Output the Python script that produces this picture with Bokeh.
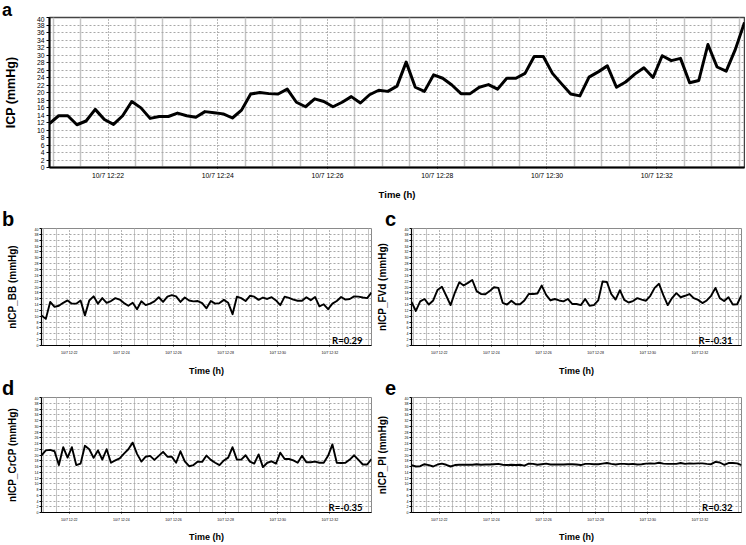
from bokeh.plotting import figure
from bokeh.layouts import column, row
from bokeh.models import Range1d, FixedTicker, Label, Div
from bokeh.embed import file_html
from bokeh.resources import INLINE

# ---------------- data ----------------
START = "12:20:56"          # time of first sample
SAMPLE_S = 10               # seconds between samples
TICK_LABELS = ["10/7 12:22", "10/7 12:24", "10/7 12:26",
               "10/7 12:28", "10/7 12:30", "10/7 12:32"]
Y_TICKS = list(range(0, 41, 2))

ICP = [11.7, 13.8, 13.8, 11.4, 12.4, 15.5, 12.8, 11.5, 13.8, 17.6,
       15.9, 13.1, 13.6, 13.6, 14.5, 13.8, 13.4, 14.9, 14.6, 14.3,
       13.2, 15.3, 19.6, 20.0, 19.7, 19.6, 20.9, 17.4, 16.2, 18.3,
       17.6, 16.2, 17.4, 18.9, 17.2, 19.4, 20.6, 20.3, 21.7, 28.1,
       21.4, 20.3, 24.7, 23.8, 22.0, 19.7, 19.7, 21.4, 22.1, 20.9,
       23.8, 23.8, 25.1, 29.6, 29.6, 25.1, 22.3, 19.6, 19.1, 24.1,
       25.5, 27.1, 21.4, 22.8, 24.9, 26.6, 24.0, 29.8, 28.5, 29.1,
       22.6, 23.2, 32.8, 26.8, 25.7, 31.5, 38.7]

NICP_BB = [10.3, 9.1, 14.9, 13.2, 13.6, 14.6, 15.4, 14.3, 14.3, 15.4,
           10.3, 15.4, 16.8, 14.3, 16.2, 14.6, 15.2, 16.2, 15.7, 14.5,
           13.6, 14.6, 12.4, 15.1, 13.8, 14.3, 15.1, 16.5, 14.9, 16.7,
           17.2, 16.8, 14.9, 16.4, 15.4, 15.1, 15.2, 14.5, 12.7, 15.2,
           14.3, 14.5, 15.6, 14.6, 10.7, 16.7, 16.2, 15.2, 17.0, 16.7,
           15.6, 16.4, 15.9, 16.5, 15.4, 13.8, 16.7, 16.3, 15.7, 15.3,
           15.3, 16.5, 15.5, 16.6, 13.4, 14.1, 12.4, 14.3, 15.2, 16.6,
           15.7, 15.9, 16.8, 16.7, 16.4, 16.2, 18.1]

NICP_FVD = [14.9, 11.8, 15.1, 15.9, 14.0, 15.4, 19.0, 20.1, 17.0, 13.8,
            18.1, 21.6, 20.5, 21.4, 22.4, 18.6, 17.6, 17.5, 18.6, 19.9,
            19.7, 14.6, 14.0, 15.3, 14.1, 14.1, 15.4, 17.6, 17.6, 17.8,
            20.5, 17.3, 15.4, 15.9, 15.4, 15.1, 15.9, 14.2, 14.2, 13.8,
            15.9, 13.6, 13.8, 15.4, 21.9, 21.7, 17.6, 15.7, 18.9, 15.6,
            14.7, 15.2, 16.2, 15.7, 15.3, 17.0, 19.7, 21.1, 17.2, 13.8,
            16.2, 17.9, 16.5, 17.0, 17.6, 16.2, 15.6, 14.5, 15.4, 17.0,
            19.7, 16.2, 15.2, 16.5, 14.0, 14.1, 17.2]

NICP_CRCP = [19.9, 21.6, 21.8, 21.3, 16.5, 22.7, 19.1, 22.7, 16.5, 17.0,
             23.2, 22.0, 19.0, 21.6, 18.4, 22.0, 17.3, 18.1, 18.8, 20.5,
             22.0, 24.3, 20.4, 17.7, 19.4, 19.7, 18.3, 19.7, 21.1, 19.4,
             19.4, 17.3, 21.3, 17.8, 16.1, 16.5, 17.7, 17.6, 19.8, 18.3,
             17.3, 16.5, 18.1, 19.1, 22.7, 18.4, 18.4, 19.9, 17.7, 17.0,
             20.2, 15.8, 17.3, 17.8, 17.0, 20.8, 18.6, 18.6, 18.1, 17.3,
             19.7, 17.5, 17.5, 17.7, 17.3, 17.3, 19.7, 23.7, 17.3, 17.2,
             17.3, 18.4, 19.9, 18.3, 16.7, 16.7, 18.6]

NICP_PI = [16.5, 16.0, 16.1, 16.8, 16.5, 16.0, 16.7, 17.0, 16.6, 16.0,
           16.5, 16.6, 16.6, 16.6, 16.6, 16.8, 16.6, 16.7, 16.7, 16.8,
           16.9, 16.6, 16.5, 16.6, 16.5, 16.6, 16.3, 17.0, 16.9, 16.6,
           16.8, 17.0, 16.7, 16.7, 16.7, 16.7, 16.8, 16.8, 16.7, 16.5,
           16.9, 16.9, 16.8, 16.8, 17.0, 17.2, 16.9, 16.7, 16.9, 16.9,
           16.8, 16.9, 16.7, 16.8, 17.0, 17.1, 17.0, 17.3, 17.0, 16.9,
           16.9, 16.9, 17.2, 16.9, 17.1, 17.0, 17.1, 17.1, 16.9, 16.8,
           17.6, 17.4, 16.6, 17.2, 17.2, 17.1, 16.5]

PANEL_LETTERS = ["a", "b", "c", "d", "e"]
Y_LABELS = ["ICP (mmHg)", "nICP_BB (mmHg)", "nICP_FVd (mmHg)",
            "nICP_CrCP (mmHg)", "nICP_PI (mmHg)"]
R_TEXTS = [None, "R=0.29", "R=-0.31", "R=-0.35", "R=0.32"]
X_LABEL = "Time (h)"

# ---------------- helpers ----------------
FONT = "Liberation Sans"
TOTAL_W = 745


def hms_to_min(s):
    parts = [int(v) for v in s.split(":")]
    while len(parts) < 3:
        parts.append(0)
    return parts[0] * 60 + parts[1] + parts[2] / 60.0


T0 = hms_to_min(START)
MAJOR = [hms_to_min(lbl.split()[1]) for lbl in TICK_LABELS]
OVERRIDES = {float(t): lbl for t, lbl in zip(MAJOR, TICK_LABELS)}


def letter_strip(h, letters):
    """Thin HTML strip carrying the panel letters;
    entries are (text, left px, baseline px from top, font px)."""
    spans = []
    for txt, left, base, fs in letters:
        # line-height 10px: baseline sits ~ (10 - 1.117*fs)/2 + 0.905*fs below the box top
        off = (10 - 1.117 * fs) / 2 + 0.905 * fs
        top = base - off
        spans.append(
            f'<div style="position:absolute;left:{left}px;top:{top:.1f}px;'
            f"font-family:'{FONT}';font-weight:bold;font-size:{fs}px;"
            f'line-height:10px;color:#000;">{txt}</div>')
    html = (f'<div style="position:relative;width:{TOTAL_W}px;height:{h}px;'
            f'overflow:visible;">' + "".join(spans) + "</div>")
    return Div(text=html, width=TOTAL_W, height=h, margin=0)


def make_panel(vals, ylabel, rtext, w, h, bl, br, bt, bb, big,
               ylab_standoff, xlab_standoff):
    xs = [T0 + i * SAMPLE_S / 60.0 for i in range(len(vals))]
    minor = []
    m = int(xs[0] * 2 + 0.999) / 2.0
    while m <= xs[-1] + 1e-9:
        if all(abs(m - t) > 1e-6 for t in MAJOR):
            minor.append(m)
        m += 0.5
    p = figure(width=w, height=h, output_backend="svg", toolbar_location=None,
               title=None, x_range=Range1d(xs[0], xs[-1]), y_range=Range1d(0, 40),
               min_border_left=bl, min_border_right=br,
               min_border_top=bt, min_border_bottom=bb)
    p.background_fill_color = "white"
    p.border_fill_color = "white"
    p.outline_line_color = "#444444" if big else "#8a8a8a"
    p.outline_line_width = 1.5 if big else 1

    xt = FixedTicker(ticks=MAJOR, minor_ticks=minor)
    yt = FixedTicker(ticks=Y_TICKS)
    p.xaxis[0].ticker = xt
    p.xgrid[0].ticker = xt
    p.yaxis[0].ticker = yt
    p.ygrid[0].ticker = yt
    p.xaxis[0].major_label_overrides = OVERRIDES

    # grids
    p.xgrid.grid_line_color = "#707070"
    p.xgrid.grid_line_dash = "1 2"
    p.xgrid.grid_line_width = 1
    p.xgrid.minor_grid_line_color = "#c4c4c4"
    p.xgrid.minor_grid_line_width = 1.5 if big else 1
    p.ygrid.grid_line_color = "#a8a8a8"
    p.ygrid.grid_line_dash = "2 2"
    p.ygrid.grid_line_width = 1

    tick_fs = "6.8px" if big else "3.5px"
    for ax in (p.xaxis[0], p.yaxis[0]):
        ax.axis_line_color = "black"
        ax.axis_line_width = 2 if big else 1.2
        ax.major_tick_line_color = "black"
        ax.major_tick_in = 0
        ax.minor_tick_line_color = None
        ax.major_label_text_font = FONT
        ax.major_label_text_font_size = tick_fs
        ax.major_label_text_color = "black"
        ax.axis_label_text_font = FONT
        ax.axis_label_text_font_style = "bold"
        ax.axis_label_text_color = "black"
    p.yaxis[0].axis_label = ylabel
    p.yaxis[0].axis_label_text_font_size = "12.5px" if big else "10px"
    p.yaxis[0].major_tick_out = 3 if big else 2
    p.yaxis[0].major_label_standoff = 2 if big else 1
    p.yaxis[0].axis_label_standoff = ylab_standoff

    p.xaxis[0].axis_label = X_LABEL
    p.xaxis[0].axis_label_text_font_size = "9.5px" if big else "9px"
    p.xaxis[0].major_tick_out = 1
    p.xaxis[0].major_label_standoff = 0 if big else 1
    p.xaxis[0].axis_label_standoff = xlab_standoff

    p.line(xs, vals, line_color="black", line_width=3 if big else 1.9,
           line_join="round")

    fw = w - bl - br
    if rtext:
        p.add_layout(Label(x=fw - 9, y=0, x_units="screen", y_units="screen",
                           text=rtext, text_font="Lato",
                           text_font_style="bold", text_font_size="9.5px",
                           text_align="right", text_baseline="bottom",
                           text_color="black"))
    return p


strip_a = letter_strip(16, [(PANEL_LETTERS[0], 2, 16.5, 18)])
pa = make_panel(ICP, Y_LABELS[0], R_TEXTS[0],
                TOTAL_W, 186, 42, 1, 1, 29, True, 16, 7)
strip_bc = letter_strip(25, [(PANEL_LETTERS[1], 2, 23.5, 20),
                             (PANEL_LETTERS[2], 385, 23.5, 20)])
pb = make_panel(NICP_BB, Y_LABELS[1], R_TEXTS[1],
                372, 151, 41, 1, 1, 27, False, 14, 8)
pc = make_panel(NICP_FVD, Y_LABELS[2], R_TEXTS[2],
                373, 151, 39, 4, 1, 27, False, 14, 8)
strip_de = letter_strip(18, [(PANEL_LETTERS[3], 2, 17, 20),
                             (PANEL_LETTERS[4], 385, 17, 20)])
pd = make_panel(NICP_CRCP, Y_LABELS[3], R_TEXTS[3],
                372, 148, 41, 1, 1, 24, False, 14, 7)
pe = make_panel(NICP_PI, Y_LABELS[4], R_TEXTS[4],
                373, 148, 39, 4, 1, 24, False, 14, 7)

layout = column(strip_a, pa, strip_bc, row(pb, pc), strip_de, row(pd, pe))
open("out.html", "w").write(file_html(layout, INLINE))
